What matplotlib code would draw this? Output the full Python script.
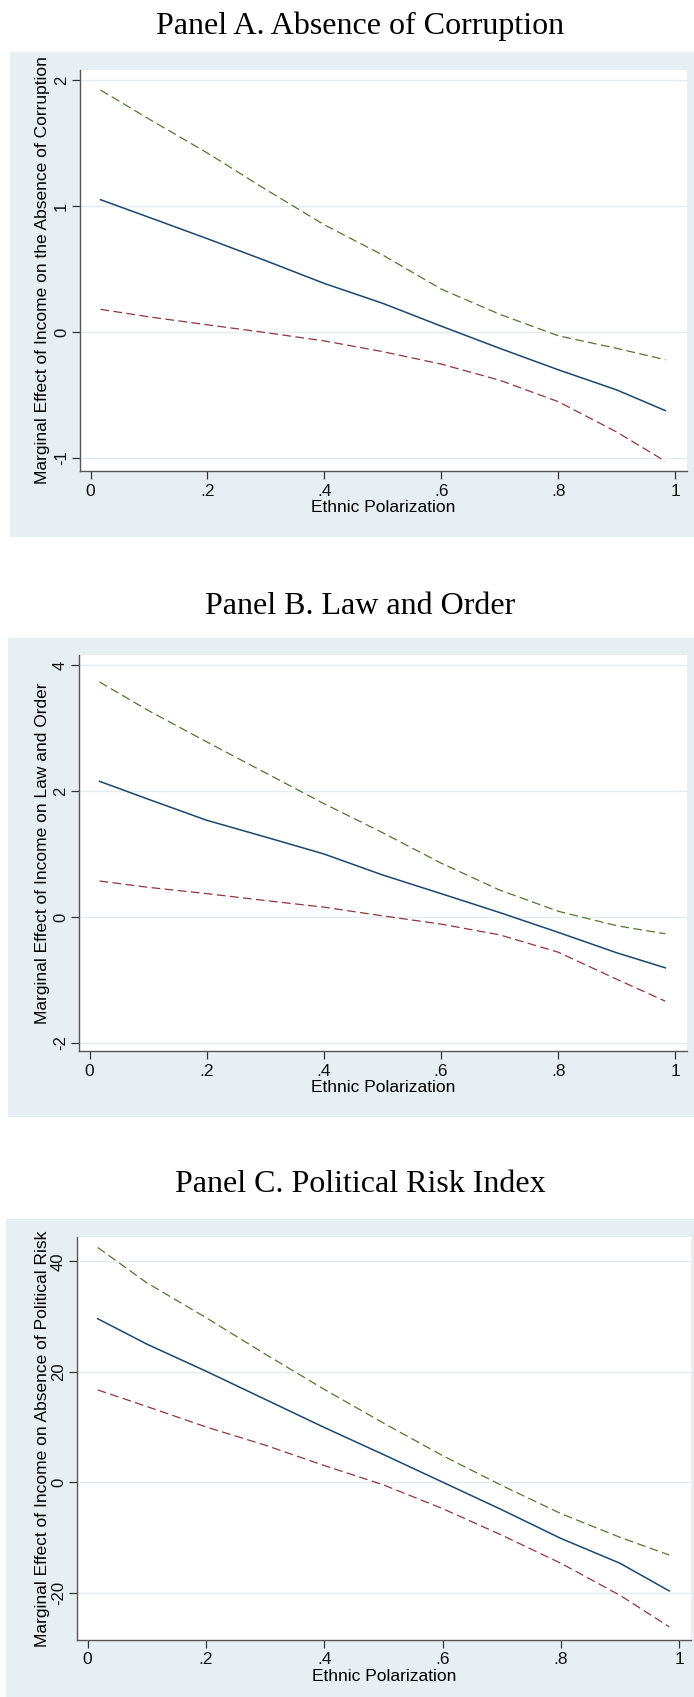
import matplotlib.pyplot as plt
from matplotlib.patches import Rectangle

plt.rcParams["font.family"] = ["Liberation Sans", "DejaVu Sans"]

# values (x = ethnic polarization)
x_pts = [0.017, 0.1, 0.2, 0.3, 0.4, 0.5, 0.6, 0.7, 0.8, 0.9, 0.983]

a_mid = [1.05, 0.91, 0.74, 0.565, 0.385, 0.227, 0.046, -0.13, -0.30, -0.46, -0.624]
a_hi = [1.92, 1.69, 1.42, 1.13, 0.85, 0.61, 0.34, 0.14, -0.03, -0.13, -0.22]
a_lo = [0.18, 0.12, 0.057, -0.005, -0.071, -0.156, -0.255, -0.383, -0.553, -0.794, -1.026]

b_mid = [2.154, 1.87, 1.535, 1.27, 1.0, 0.667, 0.37, 0.07, -0.245, -0.57, -0.809]
b_hi = [3.732, 3.28, 2.78, 2.29, 1.8, 1.339, 0.855, 0.427, 0.09, -0.14, -0.268]
b_lo = [0.57, 0.47, 0.37, 0.26, 0.155, 0.017, -0.114, -0.285, -0.56, -0.99, -1.339]

c_mid = [29.6, 25.0, 20.1, 15.0, 9.9, 5.0, 0.0, -5.0, -10.2, -14.7, -19.7]
c_hi = [42.5, 36.1, 29.8, 23.2, 16.8, 10.7, 4.8, -0.6, -5.7, -10.0, -13.2]
c_lo = [16.7, 13.7, 10.0, 6.7, 3.0, -0.5, -4.8, -9.6, -14.7, -20.5, -26.2]

titles = ["Panel A. Absence of Corruption", "Panel B. Law and Order",
          "Panel C. Political Risk Index"]
ylabels = ["Marginal Effect of Income on the Absence of Corruption",
           "Marginal Effect of Income on Law and Order",
           "Marginal Effect of Income on Absence of Political Risk"]
yticks = [[-1, 0, 1, 2], [-2, 0, 2, 4], [-20, 0, 20, 40]]
xticks = [0, 0.2, 0.4, 0.6, 0.8, 1]
xticklabels = ["0", ".2", ".4", ".6", ".8", "1"]

W, H = 694, 1697
fig = plt.figure(figsize=(W / 100, H / 100), dpi=100)

bg_col = "#e8eff2"
navy, maroon, green = "#1a476f", "#90353b", "#55752f"

# pixel layouts: (bg box), (axes box), title y, ylim
layout = [
    dict(bg=(10, 52, 694, 537), ax=(80, 70, 687, 471), ty=26, ylim=(-1.103, 2.079)),
    dict(bg=(8, 638, 694, 1117), ax=(79, 655, 687, 1051), ty=606, ylim=(-2.13, 4.16)),
    dict(bg=(6, 1219, 694, 1697), ax=(77, 1237, 691, 1640), ty=1185, ylim=(-28.6, 44.4)),
]
series = [(a_mid, a_hi, a_lo), (b_mid, b_hi, b_lo), (c_mid, c_hi, c_lo)]


def fx(px):
    return px / W


def fy(py):
    return 1 - py / H


for i, lay in enumerate(layout):
    x0, y0, x1, y1 = lay["bg"]
    bg = Rectangle((fx(x0), fy(y1)), fx(x1) - fx(x0), fy(y0) - fy(y1),
                   transform=fig.transFigure, facecolor=bg_col, edgecolor="none", zorder=-5)
    fig.patches.append(bg)

    ax0, ay0, ax1, ay1 = lay["ax"]
    ax = fig.add_axes([fx(ax0), fy(ay1), fx(ax1) - fx(ax0), fy(ay0) - fy(ay1)])
    mid, hi, lo = series[i]
    ax.plot(x_pts, hi, color=green, lw=0.9, dashes=(7, 3.5))
    ax.plot(x_pts, mid, color=navy, lw=1.1)
    ax.plot(x_pts, lo, color=maroon, lw=0.9, dashes=(7, 3.5))

    ax.set_xlim(-0.018, 1.02)
    ax.set_ylim(*lay["ylim"])
    ax.set_xticks(xticks)
    ax.set_xticklabels(xticklabels)
    ax.set_yticks(yticks[i])
    ax.set_yticklabels([str(t) for t in yticks[i]], rotation=90, va="center")
    ax.grid(axis="y", color="#e3ecef", lw=1.0)
    ax.set_axisbelow(True)
    for s in ["top", "right"]:
        ax.spines[s].set_visible(False)
    for s in ["left", "bottom"]:
        ax.spines[s].set_color("#555555")
        ax.spines[s].set_linewidth(1.0)
    ax.tick_params(length=6, width=0.9, color="#333333", labelcolor="#111111")
    ax.tick_params(axis="x", labelsize=12.5, pad=3)
    ax.tick_params(axis="y", labelsize=12, pad=2)

    ax.set_xlabel("Ethnic Polarization", fontsize=12.5, labelpad=1)
    lab = ax.set_ylabel(ylabels[i], fontsize=12.5)
    ax.yaxis.set_label_coords((50 - ax0) / (ax1 - ax0), 0.5)
    lab.set_clip_path(bg)

    fig.text(fx(360), fy(lay["ty"]), titles[i], ha="center", va="center",
             fontsize=23, family="Liberation Serif")

fig.savefig("out.png", dpi=100)
